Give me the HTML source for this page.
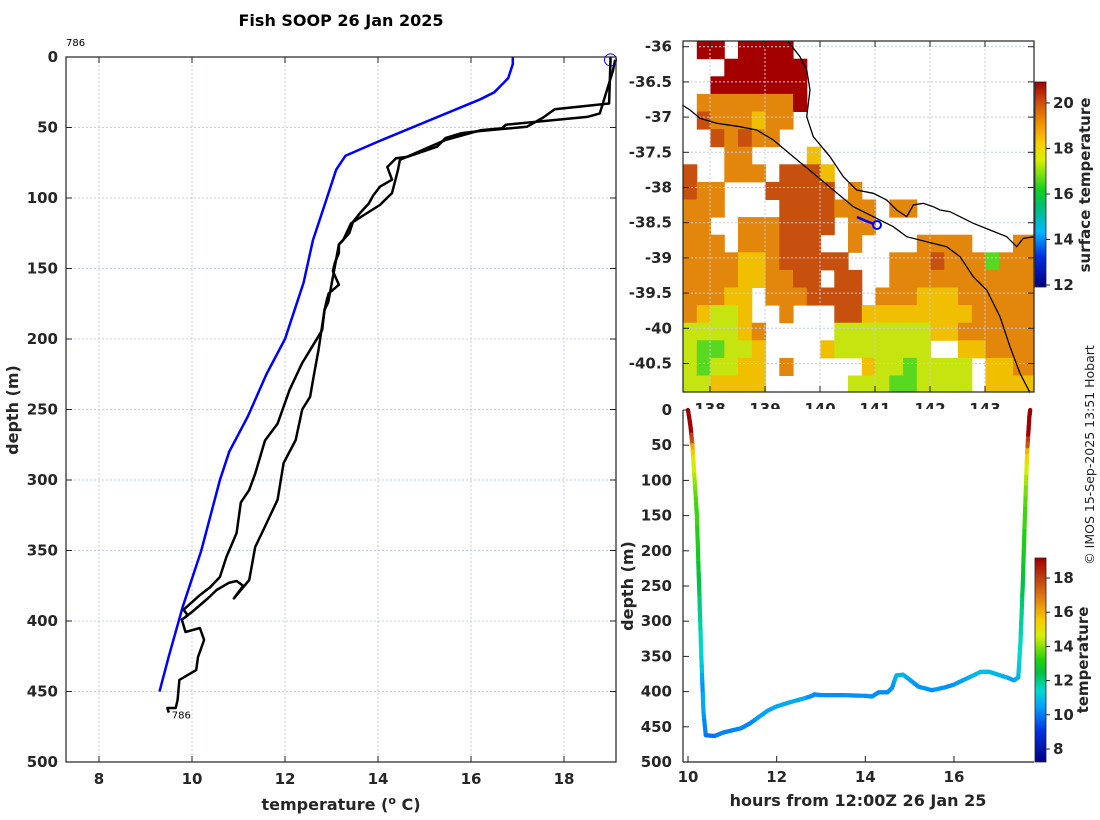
<!DOCTYPE html>
<html><head><meta charset="utf-8"><style>
html,body{margin:0;padding:0;background:#fff;}
svg{display:block;font-family:"DejaVu Sans","Liberation Sans",sans-serif;}
.tk{font-size:15px;font-weight:bold;fill:#262626;}
.lb{font-size:16px;font-weight:bold;fill:#262626;}
</style></head><body>
<svg id="fig" width="1100" height="820" viewBox="0 0 1100 820" xmlns="http://www.w3.org/2000/svg">
<defs>
<linearGradient id="cbMap" x1="0" y1="1" x2="0" y2="0">
<stop offset="0" stop-color="#000080"/><stop offset="0.15" stop-color="#0030e0"/><stop offset="0.27" stop-color="#00b8ff"/>
<stop offset="0.4" stop-color="#00c070"/><stop offset="0.47" stop-color="#10d020"/><stop offset="0.62" stop-color="#d8f000"/>
<stop offset="0.7" stop-color="#f8d000"/><stop offset="0.8" stop-color="#f09000"/><stop offset="0.9" stop-color="#d05010"/><stop offset="1" stop-color="#a00000"/>
</linearGradient>
<linearGradient id="cbTrk" x1="0" y1="1" x2="0" y2="0">
<stop offset="0" stop-color="#000080"/><stop offset="0.15" stop-color="#0030e0"/><stop offset="0.27" stop-color="#00a0ff"/>
<stop offset="0.35" stop-color="#00d8d0"/><stop offset="0.44" stop-color="#00c040"/><stop offset="0.5" stop-color="#20d010"/>
<stop offset="0.62" stop-color="#d8f000"/><stop offset="0.7" stop-color="#f8c800"/><stop offset="0.8" stop-color="#e08010"/><stop offset="0.9" stop-color="#c04010"/><stop offset="1" stop-color="#a00000"/>
</linearGradient>
</defs>
<text x="341" y="26" text-anchor="middle" style="font-size:16px;font-weight:bold">Fish SOOP 26 Jan 2025</text>
<g id="main"></g>
<g id="map"></g>
<g id="trk"></g>
<text transform="translate(1094,455) rotate(-90)" text-anchor="middle" style="font-size:12.5px;fill:#222">© IMOS 15-Sep-2025 13:51 Hobart</text>
</svg>
<script>
// ---- profile data ----
const climTemp=[16.9,16.9,16.8,16.5,16.2,14.0,13.3,13.1,12.9,12.6,12.4,12.2,12.0,11.6,11.2,10.8,10.6,10.2,9.8,9.5,9.3];
const climDepth=[0,5,15,25,30,60,70,80,100,130,160,180,200,225,255,280,300,350,390,425,450];
const downTemp=[19.0,19.0,18.97,17.8,17.55,17.2,16.2,15.8,15.45,15.27,14.64,14.39,14.2,14.3,14.04,13.9,13.8,13.63,13.46,13.38,13.16,13.16,13.07,13.03,13.16,12.94,12.9,12.85,12.8,12.63,12.37,12.1,11.84,11.57,11.36,11.23,11.05,10.96,10.74,10.6,10.39,10.17,9.82,9.91,9.78,9.86,10.17,10.26,10.13,10.09,9.73,9.69,9.65,9.47,9.5];
const downDepth=[0,2,33,37,43,49.5,52.5,54,57.5,63.6,70.7,71.8,78,87,92,98,104,110,117,125,133,139,146,152,161.5,167.7,172,179.5,193.6,203,217,236,260,272,295.5,307,316,337.6,354.6,368.8,376,381.6,392,396,399,407.8,405,413.5,425.5,434.8,441.8,456,461.7,461.7,465];
const upTemp=[9.86,10.0,10.35,10.53,10.79,10.96,11.1,10.9,11.23,11.36,11.57,11.84,11.97,12.23,12.37,12.54,12.63,12.72,12.85,12.93,13.16,13.25,13.42,13.63,14.04,14.3,14.43,14.47,15.44,16.2,16.67,16.75,18.5,18.77,19.05,19.1];
const upDepth=[397,393.6,383.7,378,373,371.6,375,384,371,347.5,333,314,288,271.6,250,241,224,207.8,179.5,174,133,130,118,113.5,105,96.5,80,73,59,52,50.5,48,42.5,40,10,2];
const tempTicks=[8,10,12,14,16,18];
const depthTicks=[0,50,100,150,200,250,300,350,400,450,500];
// ---- track data ----
const trackHours=[10.0,10.05,10.1,10.15,10.2,10.25,10.3,10.35,10.4,10.6,10.8,11.0,11.2,11.4,11.6,11.8,12.0,12.3,12.6,12.8,12.85,13.0,13.5,14.0,14.15,14.3,14.5,14.6,14.7,14.85,15.0,15.2,15.5,15.8,16.0,16.3,16.6,16.8,17.0,17.2,17.35,17.45,17.5,17.55,17.6,17.65,17.7,17.72];
const trackDepth=[0,20,50,100,150,250,350,430,462,463,458,455,452,445,436,427,421,415,410,406,404,405,405,406,407,401,401,395,377,376,383,393,398,394,390,381,372,372,376,380,384,380,330,250,150,60,10,0];
const hourTicks=[10,12,14,16];
const trkCbTicks=[8,10,12,14,16,18];
const mapCbTicks=[12,14,16,18,20];
const latTicks=[-36,-36.5,-37,-37.5,-38,-38.5,-39,-39.5,-40,-40.5];
const lonTicks=[138,139,140,141,142,143];
// SST grid rows (0.25 deg), lat from -35.92 downward, lon from 137.51
const sstRows=[
".RR.RRRR..................",
"...RRRRRR.................",
"..RRRRRRR.................",
".OOOOOOOR.................",
".BOOOYOO..................",
"..BOBOO...................",
"...OO....Y................",
"B..OOO.BBBY...............",
"BOO...BBBBB.O.............",
"OOO....BBBBOOO.OO.........",
"OO..OOOBBBB.OO............",
"OOO.OOOBBB..O....OOOO...OO",
"OOOOYYOBBBBB...OOOBOOOGOOO",
"OOOOYYOOBB.BB..OOOOOOOOOOO",
"OOOYY.OOOBBBB.OOOYYYOOOOOO",
"OYLLY..O...BBYYYYYYYYOOOOO",
"LLLLYO.....LLLLLLLYYOOOOOO",
"LGGLLY....YLLLLLLL..YYOOOO",
"LGLLYY.O.....YLLGLLLL.YYOO",
"LLYYYY......LLLGGLLLL.YYYY"];
const sstColors={R:"#a50000",B:"#c8500e",O:"#e3860c",Y:"#f0c000",L:"#c6e410",G:"#58d820"};

const NS="http://www.w3.org/2000/svg";
function mk(parent,tag,attrs,name,txt){const e=document.createElementNS(NS,tag);for(const k in attrs)e.setAttribute(k,attrs[k]);


if(txt!==undefined)e.textContent=txt;parent.appendChild(e);return e;}
function pts(xs,ys,fx,fy){return xs.map((v,i)=>fx(v).toFixed(1)+","+fy(ys[i]).toFixed(1)).join(" ");}

// ===== main profile =====
const M=document.getElementById('main');
const xT=t=>99+(t-8)*46.5, yD=d=>57+d*1.41;
mk(M,'rect',{x:66,y:57,width:550,height:705,fill:'#fff'},'plot-area');
tempTicks.forEach(t=>{mk(M,'line',{x1:xT(t),x2:xT(t),y1:57,y2:762,stroke:'#c5cce6','stroke-dasharray':'2,2'},'x-grid-line');});
depthTicks.forEach(d=>{mk(M,'line',{x1:66,x2:616,y1:yD(d),y2:yD(d),stroke:'#c5cce6','stroke-dasharray':'2,2'},'y-grid-line');});
mk(M,'polyline',{points:pts(climTemp,climDepth,xT,yD),fill:'none',stroke:'#0000ff','stroke-width':2.5},'climatology-line');
mk(M,'polyline',{points:pts(downTemp,downDepth,xT,yD),fill:'none',stroke:'#000','stroke-width':2.5,'stroke-linejoin':'round'},'downcast-line');
mk(M,'polyline',{points:pts(upTemp,upDepth,xT,yD),fill:'none',stroke:'#000','stroke-width':2.5,'stroke-linejoin':'round'},'upcast-line');
mk(M,'circle',{cx:xT(downTemp[0]),cy:yD(downDepth[1]),r:6,fill:'none',stroke:'#0000ff','stroke-width':1},'start-marker');
mk(M,'rect',{x:66,y:57,width:550,height:705,fill:'none',stroke:'#222','stroke-width':1.2},'axes-box');
tempTicks.forEach(t=>{mk(M,'line',{x1:xT(t),x2:xT(t),y1:762,y2:756,stroke:'#222'},'x-tick');mk(M,'line',{x1:xT(t),x2:xT(t),y1:57,y2:63,stroke:'#222'},'x-tick-top');
mk(M,'text',{x:xT(t),y:784,'text-anchor':'middle',class:'tk'},'x-tick-label',String(t));});
depthTicks.forEach(d=>{mk(M,'line',{x1:66,x2:72,y1:yD(d),y2:yD(d),stroke:'#222'},'y-tick');mk(M,'line',{x1:610,x2:616,y1:yD(d),y2:yD(d),stroke:'#222'},'y-tick-right');
mk(M,'text',{x:58,y:yD(d)+5,'text-anchor':'end',class:'tk'},'y-tick-label',String(d));});
mk(M,'text',{x:66,y:46,style:'font-size:10px'},'profile-id-label','786');
mk(M,'text',{x:xT(downTemp[downTemp.length-1])+3,y:yD(downDepth[downDepth.length-1])+6,style:'font-size:10px'},'profile-end-label','786');
const xl=mk(M,'text',{x:341,y:810,'text-anchor':'middle',class:'lb'},'x-axis-title');
xl.innerHTML='temperature (<tspan dy="-6" style="font-size:11px">o</tspan><tspan dy="6"> C)</tspan>';
mk(M,'text',{transform:'translate(18,410) rotate(-90)','text-anchor':'middle',class:'lb'},'y-axis-title','depth (m)');

// ===== map =====
const P=document.getElementById('map');
const xL=lon=>710+(lon-138)*55, yL=lat=>46.7+(-36-lat)*70.4;
mk(P,'rect',{x:683,y:41,width:351,height:351,fill:'#fff'},'map-area');
sstRows.forEach((row,r)=>{for(let c=0;c<row.length;c++){const ch=row[c];if(ch==='.')continue;
const x0=xL(137.51+c*0.25),x1=Math.min(xL(137.51+(c+1)*0.25),1034),y0=yL(-35.92-r*0.25),y1=Math.min(yL(-35.92-(r+1)*0.25),392);
mk(P,'rect',{x:x0.toFixed(1),y:y0.toFixed(1),width:(x1-x0+0.5).toFixed(1),height:(y1-y0+0.5).toFixed(1),fill:sstColors[ch]},'sst-cell');}});
lonTicks.forEach(l=>mk(P,'line',{x1:xL(l),x2:xL(l),y1:41,y2:392,stroke:'#c5cce6','stroke-dasharray':'2,2'},'lon-grid-line'));
latTicks.forEach(l=>mk(P,'line',{x1:683,x2:1034,y1:yL(l),y2:yL(l),stroke:'#c5cce6','stroke-dasharray':'2,2'},'lat-grid-line'));
const coast1=[[127,225],[150,240],[180,265],[230,280],[300,290],[350,300],[400,330],[460,380],[520,430],[580,480],[640,530],[700,560],[760,590],[800,620],[860,635],[920,650],[960,680],[1000,740],[1040,780],[1080,860],[1110,950],[1140,1030],[1170,1088]];
const coast2=[[445,35],[480,80],[500,120],[510,180],[500,260],[520,320],[570,380],[610,440],[650,480],[700,490],[740,510],[770,540],[800,560],[820,525],[850,520],[880,530],[900,540],[930,545],[960,560],[1000,580],[1050,600],[1100,620],[1130,650],[1150,625],[1183,620]];
[coast1,coast2].forEach(cs=>mk(P,'polyline',{points:cs.map(p=>(p[0]/3+640).toFixed(1)+","+(p[1]/3+30).toFixed(1)).join(" "),fill:'none',stroke:'#000','stroke-width':1.3},'coastline'));
mk(P,'polyline',{points:"857,217 866,221 874,224",fill:'none',stroke:'#0000ff','stroke-width':2.5},'ship-track');
mk(P,'circle',{cx:877,cy:225,r:4,fill:'none',stroke:'#0000ff','stroke-width':2},'profile-location');
mk(P,'rect',{x:683,y:41,width:351,height:351,fill:'none',stroke:'#222','stroke-width':1.2},'map-box');
latTicks.forEach(l=>{mk(P,'line',{x1:683,x2:689,y1:yL(l),y2:yL(l),stroke:'#222'},'lat-tick');mk(P,'line',{x1:1028,x2:1034,y1:yL(l),y2:yL(l),stroke:'#222'},'lat-tick-right');
mk(P,'text',{x:672,y:yL(l)+5,'text-anchor':'end',class:'tk'},'lat-tick-label',String(l));});
lonTicks.forEach(l=>{mk(P,'line',{x1:xL(l),x2:xL(l),y1:392,y2:386,stroke:'#222'},'lon-tick');mk(P,'line',{x1:xL(l),x2:xL(l),y1:41,y2:47,stroke:'#222'},'lon-tick-top');
mk(P,'text',{x:xL(l),y:414,'text-anchor':'middle',class:'tk'},'lon-tick-label',String(l));});
const yCM=v=>285-(v-12)*22.75;
mk(P,'rect',{x:1035,y:82,width:11,height:205,fill:'url(#cbMap)',stroke:'#222','stroke-width':0.8},'sst-colorbar');
mapCbTicks.forEach(v=>{mk(P,'line',{x1:1046,x2:1050,y1:yCM(v),y2:yCM(v),stroke:'#222'},'colorbar-tick');
mk(P,'text',{x:1053,y:yCM(v)+5,class:'tk'},'colorbar-tick-label',String(v));});
mk(P,'text',{transform:'translate(1090,185) rotate(-90)','text-anchor':'middle',class:'lb',style:'font-size:15px'},'colorbar-title','surface temperature');

// ===== depth-time track =====
const T=document.getElementById('trk');
const xH=h=>688+(h-10)*44.33, yB=d=>410+d*0.704;
mk(T,'rect',{x:683,y:409,width:351,height:353,fill:'#fff'},'track-area');
function interp(d){for(let i=0;i<downDepth.length-1;i++){if(d>=downDepth[i]&&d<=downDepth[i+1]){const f=(d-downDepth[i])/((downDepth[i+1]-downDepth[i])||1);return downTemp[i]+f*(downTemp[i+1]-downTemp[i]);}}return downTemp[downTemp.length-1];}
const stops=[[7.2,[0,0,128]],[9,[0,48,224]],[10.2,[0,150,255]],[11.2,[0,216,208]],[12.3,[0,192,64]],[13.2,[32,208,16]],[14.6,[216,240,0]],[15.6,[248,200,0]],[16.8,[224,128,16]],[18,[192,64,16]],[19.2,[160,0,0]]];
function cmap(t){if(t<=stops[0][0])return 'rgb(0,0,128)';for(let i=0;i<stops.length-1;i++){if(t<=stops[i+1][0]){const f=(t-stops[i][0])/(stops[i+1][0]-stops[i][0]);const c=stops[i][1].map((v,k)=>Math.round(v+f*(stops[i+1][1][k]-v)));return 'rgb('+c+')';}}return 'rgb(160,0,0)';}
for(let i=0;i<trackHours.length-1;i++){const n=6;for(let j=0;j<n;j++){
const h0=trackHours[i]+(trackHours[i+1]-trackHours[i])*j/n,h1=trackHours[i]+(trackHours[i+1]-trackHours[i])*(j+1)/n;
const d0=trackDepth[i]+(trackDepth[i+1]-trackDepth[i])*j/n,d1=trackDepth[i]+(trackDepth[i+1]-trackDepth[i])*(j+1)/n;
mk(T,'line',{x1:xH(h0).toFixed(1),y1:yB(d0).toFixed(1),x2:xH(h1).toFixed(1),y2:yB(d1).toFixed(1),stroke:cmap(interp((d0+d1)/2)+0.3),'stroke-width':4.2,'stroke-linecap':'round'},'track-segment');}}
mk(T,'line',{x1:683,x2:683,y1:410,y2:762,stroke:'#222','stroke-width':1.2},'track-y-axis');
mk(T,'line',{x1:683,x2:1034,y1:762,y2:762,stroke:'#222','stroke-width':1.2},'track-x-axis');
depthTicks.forEach(d=>{mk(T,'line',{x1:683,x2:689,y1:yB(d),y2:yB(d),stroke:'#222'},'track-y-tick');
mk(T,'text',{x:672,y:yB(d)+5,'text-anchor':'end',class:'tk'},'track-y-tick-label',String(d));});
hourTicks.forEach(h=>{mk(T,'line',{x1:xH(h),x2:xH(h),y1:762,y2:756,stroke:'#222'},'track-x-tick');
mk(T,'text',{x:xH(h),y:782,'text-anchor':'middle',class:'tk'},'track-x-tick-label',String(h));});
mk(T,'text',{x:858,y:806,'text-anchor':'middle',class:'lb'},'track-x-axis-title','hours from 12:00Z 26 Jan 25');
mk(T,'text',{transform:'translate(633,586) rotate(-90)','text-anchor':'middle',class:'lb'},'track-y-axis-title','depth (m)');
const yCT=v=>749-(v-8)*17.1;
mk(T,'rect',{x:1035,y:558,width:11,height:204,fill:'url(#cbTrk)',stroke:'#222','stroke-width':0.8},'temp-colorbar');
trkCbTicks.forEach(v=>{mk(T,'line',{x1:1046,x2:1050,y1:yCT(v),y2:yCT(v),stroke:'#222'},'colorbar-tick');
mk(T,'text',{x:1053,y:yCT(v)+5,class:'tk'},'colorbar-tick-label',String(v));});
mk(T,'text',{transform:'translate(1088,660) rotate(-90)','text-anchor':'middle',class:'lb',style:'font-size:15px'},'colorbar-title','temperature');
</script>
</body></html>
